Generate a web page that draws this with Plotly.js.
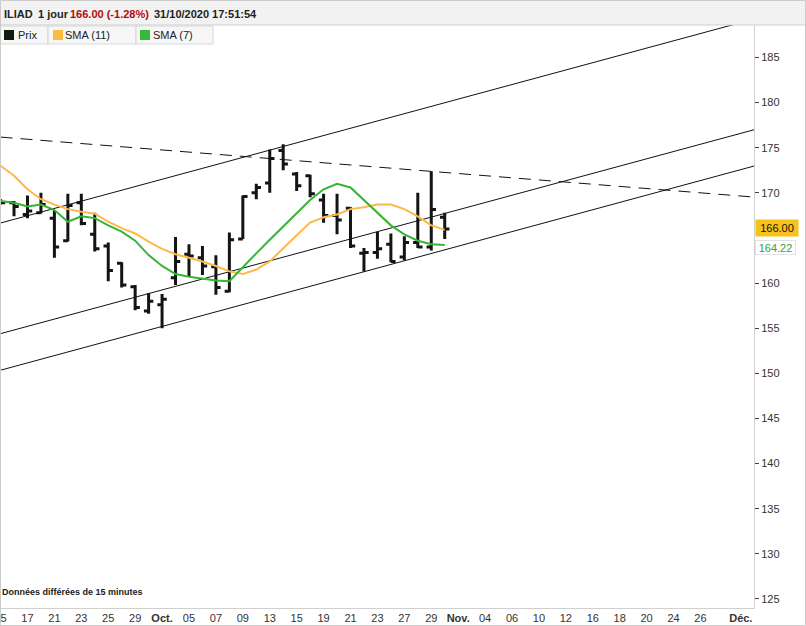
<!DOCTYPE html>
<html>
<head>
<meta charset="utf-8">
<script src="https://cdn.plot.ly/plotly-3.0.1.min.js"></script>
<style>
  html, body { margin: 0; padding: 0; background: #fff; }
  #chart { width: 806px; height: 626px; }
</style>
</head>
<body>
<div id="chart"></div>
<script>
// ---- Data ----
const dates = ['2020-09-15','2020-09-16','2020-09-17','2020-09-18','2020-09-21','2020-09-22','2020-09-23','2020-09-24','2020-09-25',
  '2020-09-28','2020-09-29','2020-09-30','2020-10-01','2020-10-02','2020-10-05','2020-10-06','2020-10-07','2020-10-08','2020-10-09',
  '2020-10-12','2020-10-13','2020-10-14','2020-10-15','2020-10-16','2020-10-19','2020-10-20','2020-10-21','2020-10-22','2020-10-23',
  '2020-10-26','2020-10-27','2020-10-28','2020-10-29','2020-10-30'];
const openP  = [169.0,168.9,167.6,167.8,167.2,164.7,168.9,165.4,164.1,162.2,159.6,156.9,157.6,160.6,163.2,162.8,161.8,159.1,164.9,
  170.0,171.1,174.7,172.1,171.9,169.2,167.5,168.3,163.3,163.4,164.3,162.9,164.5,164.0,167.3];
const highP  = [169.3,169.1,169.7,170.0,168.1,169.9,169.9,167.8,164.5,162.3,159.8,158.9,158.8,165.1,164.3,164.1,163.1,165.6,169.7,
  171.0,174.8,175.4,172.3,172.0,169.9,169.9,168.4,163.9,165.7,165.5,165.2,170.0,172.4,167.8];
const lowP   = [168.7,167.4,167.2,167.7,162.8,164.6,166.4,163.5,160.2,159.5,157.0,156.6,155.0,159.8,160.8,160.9,158.7,159.0,164.9,
  169.3,170.0,172.5,170.2,169.5,166.7,165.4,163.9,161.3,162.7,162.3,162.5,163.9,163.6,164.9];
const closeP = [168.9,168.5,168.0,168.7,164.0,168.6,166.6,163.8,161.4,159.8,157.3,158.0,158.2,162.4,163.0,161.9,159.5,164.8,169.6,
  170.6,173.8,173.2,170.8,169.9,167.5,167.0,164.1,163.4,163.8,162.4,164.5,164.0,168.15,166.0];
const sma11 = [173.0,171.9,170.4,169.3,168.7,168.2,167.9,167.7,166.8,166.1,165.5,164.6,163.8,163.2,162.8,162.4,161.9,161.3,161.0,
  161.5,162.4,163.9,165.3,166.7,167.3,167.6,168.2,168.4,168.7,168.7,168.2,167.4,166.4,165.9];
const sma7  = [169.1,168.9,168.5,168.7,168.1,166.8,167.4,167.2,166.4,165.7,164.7,163.1,161.9,161.0,160.7,160.5,160.3,160.2,161.8,
  163.3,164.8,166.3,167.7,169.2,170.4,171.0,170.6,169.2,167.7,166.4,165.4,164.7,164.3,164.22];

// Drawn trend lines (start / end dates and prices)
const lineDates   = ['2020-09-15','2020-12-02'];
const upperLine   = [166.66,189.27];
const middleLine  = [154.40,177.00];
const lowerLine   = [150.35,172.98];
const dashedLine  = [176.18,169.53];

// Axis ticks
const tickDates  = ['2020-09-15','2020-09-17','2020-09-21','2020-09-23','2020-09-25','2020-09-29','2020-10-01','2020-10-05','2020-10-07',
  '2020-10-09','2020-10-13','2020-10-15','2020-10-19','2020-10-21','2020-10-23','2020-10-27','2020-10-29','2020-11-02','2020-11-04',
  '2020-11-06','2020-11-10','2020-11-12','2020-11-16','2020-11-18','2020-11-20','2020-11-24','2020-11-26','2020-12-01'];
const tickLabels = ['15','17','21','23','25','29','<b>Oct.</b>','05','07','09','13','15','19','21','23','27','29','<b>Nov.</b>','04',
  '06','10','12','16','18','20','24','26','<b>Déc.</b>'];
// 165 sits behind the last-value boxes in the reference, so it is not shown
const yTicks = [125,130,135,140,145,150,155,160,170,175,180,185];

const FONT = 'Liberation Sans, Arial, sans-serif';
const ORANGE = '#fdb846';
const GREEN = '#35b535';

// ---- Pixel helpers for decorations (plot area: x 0..754, y 25..608) ----
const PW = 754, PT = 25, PB = 608, PH = PB - PT;
const px = v => v / PW;
const py = v => (PB - v) / PH;

const lastClose = closeP[closeP.length - 1];
const prevClose = closeP[closeP.length - 2];
const pct = (lastClose - prevClose) / prevClose * 100;

const traces = [
  {type:'scatter', mode:'lines', x:lineDates, y:upperLine, line:{color:'#111', width:1}, hoverinfo:'skip'},
  {type:'scatter', mode:'lines', x:lineDates, y:middleLine, line:{color:'#111', width:1}, hoverinfo:'skip'},
  {type:'scatter', mode:'lines', x:lineDates, y:lowerLine, line:{color:'#111', width:1}, hoverinfo:'skip'},
  {type:'scatter', mode:'lines', x:lineDates, y:dashedLine, line:{color:'#111', width:1, dash:'12px,8px'}, hoverinfo:'skip'},
  {type:'ohlc', x:dates, open:openP, high:highP, low:lowP, close:closeP, tickwidth:0.35,
    increasing:{line:{color:'#141414', width:3}}, decreasing:{line:{color:'#141414', width:3}}},
  {type:'scatter', mode:'lines', x:dates, y:sma11, line:{color:ORANGE, width:2}},
  {type:'scatter', mode:'lines', x:dates, y:sma7, line:{color:GREEN, width:2}}
];

const shapes = [
  // header band
  {type:'rect', xref:'paper', yref:'paper', x0:px(0), x1:px(806), y0:py(25), y1:py(0), fillcolor:'#f2f2f2', line:{width:0}, layer:'below'},
  {type:'line', xref:'paper', yref:'paper', x0:px(0), x1:px(806), y0:py(25), y1:py(25), line:{color:'#cfcfcf', width:1}},
  // legend boxes
  {type:'rect', xref:'paper', yref:'paper', x0:px(0), x1:px(48), y0:py(44), y1:py(26), fillcolor:'#f7f7f7', line:{color:'#d6d6d6', width:1}},
  {type:'rect', xref:'paper', yref:'paper', x0:px(48), x1:px(136), y0:py(44), y1:py(26), fillcolor:'#f7f7f7', line:{color:'#d6d6d6', width:1}},
  {type:'rect', xref:'paper', yref:'paper', x0:px(136), x1:px(213), y0:py(44), y1:py(26), fillcolor:'#f7f7f7', line:{color:'#d6d6d6', width:1}},
  {type:'rect', xref:'paper', yref:'paper', x0:px(4), x1:px(14), y0:py(40), y1:py(30), fillcolor:'#111a11', line:{width:0}},
  {type:'rect', xref:'paper', yref:'paper', x0:px(53), x1:px(63), y0:py(40), y1:py(30), fillcolor:'#fdbb40', line:{width:0}},
  {type:'rect', xref:'paper', yref:'paper', x0:px(140), x1:px(150), y0:py(40), y1:py(30), fillcolor:'#36b936', line:{width:0}},
  // outer frame
  {type:'rect', xref:'paper', yref:'paper', x0:px(0.5), x1:px(805.5), y0:py(625.5), y1:py(0.5), line:{color:'#cccccc', width:1}}
];

const hdrFont = {family:FONT, size:11, color:'#222'};
const annotations = [
  {xref:'paper', yref:'paper', x:px(2), y:py(14), xanchor:'left', yanchor:'middle', showarrow:false, text:'<b>ILIAD</b>', font:hdrFont},
  {xref:'paper', yref:'paper', x:px(36), y:py(14), xanchor:'left', yanchor:'middle', showarrow:false, text:'<b>1 jour</b>', font:hdrFont},
  {xref:'paper', yref:'paper', x:px(68), y:py(14), xanchor:'left', yanchor:'middle', showarrow:false,
    text:'<b>' + lastClose.toFixed(2) + ' (' + pct.toFixed(2) + '%)</b>', font:{family:FONT, size:11, color:'#b30a0a'}},
  {xref:'paper', yref:'paper', x:px(152), y:py(14), xanchor:'left', yanchor:'middle', showarrow:false, text:'<b>31/10/2020 17:51:54</b>', font:hdrFont},
  {xref:'paper', yref:'paper', x:px(16), y:py(35), xanchor:'left', yanchor:'middle', showarrow:false, text:'Prix', font:{family:FONT, size:11, color:'#222'}},
  {xref:'paper', yref:'paper', x:px(63), y:py(35), xanchor:'left', yanchor:'middle', showarrow:false, text:'SMA (11)', font:{family:FONT, size:11, color:'#222'}},
  {xref:'paper', yref:'paper', x:px(151), y:py(35), xanchor:'left', yanchor:'middle', showarrow:false, text:'SMA (7)', font:{family:FONT, size:11, color:'#222'}},
  {xref:'paper', yref:'paper', x:px(0), y:py(592), xanchor:'left', yanchor:'middle', showarrow:false, text:'<b>Données différées de 15 minutes</b>', font:{family:FONT, size:9, color:'#222'}},
  {xref:'paper', yref:'y', x:px(755), y:lastClose, yshift:1, xanchor:'left', yanchor:'middle', showarrow:false,
    text:lastClose.toFixed(2), font:{family:FONT, size:11, color:'#111'}, bgcolor:'#f8c21c', width:38, height:12, borderpad:2},
  {xref:'paper', yref:'y', x:px(755), y:sma7[sma7.length-1], yshift:-2, xanchor:'left', yanchor:'middle', showarrow:false,
    text:sma7[sma7.length-1].toFixed(2), font:{family:FONT, size:11, color:'#2ea82e'}, bgcolor:'#ffffff', bordercolor:'#e2e2e2', borderwidth:1, width:37, height:11, borderpad:1}
];

const layout = {
  width:806, height:626,
  margin:{l:0, r:52, t:25, b:18, pad:0},
  paper_bgcolor:'#ffffff', plot_bgcolor:'#ffffff',
  showlegend:false,
  font:{family:FONT, size:11, color:'#333'},
  xaxis:{type:'date', range:['2020-09-14 23:00','2020-12-01 23:30'], rangebreaks:[{bounds:['sat','mon']}],
    tickmode:'array', tickvals:tickDates, ticktext:tickLabels, tickangle:0, ticklabeloverflow:'allow',
    tickfont:{family:FONT, size:11, color:'#333'}, ticks:'', showgrid:false, zeroline:false,
    showline:true, linecolor:'#d0d0d0', linewidth:1, rangeslider:{visible:false}, fixedrange:true},
  yaxis:{side:'right', range:[124.0,188.6], tickmode:'array', tickvals:yTicks, ticks:'outside', ticklen:4, tickcolor:'#444',
    tickfont:{family:FONT, size:11, color:'#333'}, showgrid:false, zeroline:false,
    showline:true, linecolor:'#d0d0d0', linewidth:1, fixedrange:true},
  shapes:shapes,
  annotations:annotations
};

Plotly.newPlot('chart', traces, layout, {displayModeBar:false, staticPlot:true});
</script>
</body>
</html>
